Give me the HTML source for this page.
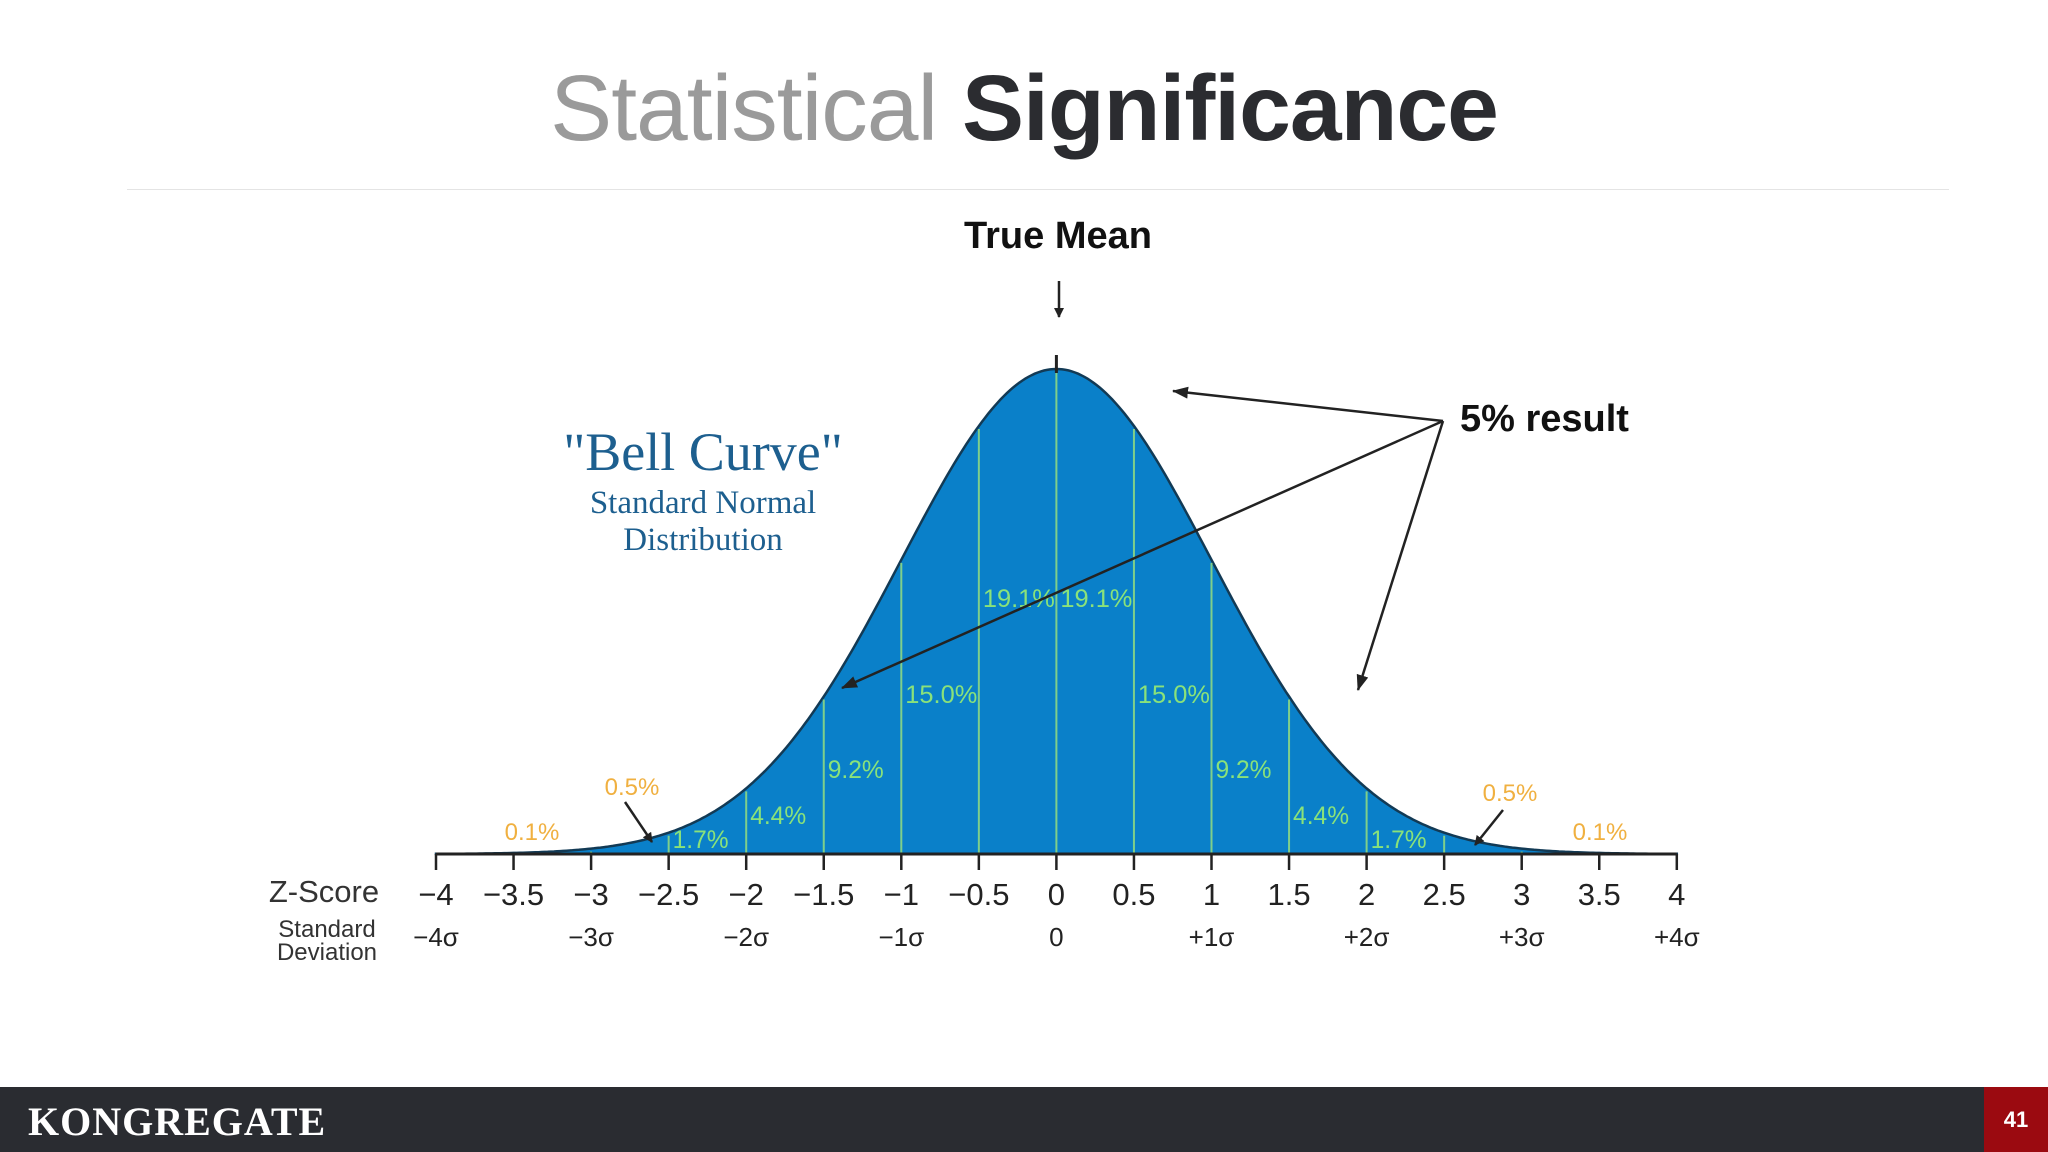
<!DOCTYPE html>
<html><head><meta charset="utf-8"><style>
body{margin:0;width:2048px;height:1152px;background:#fff;position:relative;overflow:hidden;font-family:"Liberation Sans",sans-serif}
.t{position:absolute}
</style></head><body>
<div class="t" style="left:0;width:2048px;top:48px;text-align:center;font-size:93px;line-height:120px;color:#9a9a9a;letter-spacing:-1px"><span style="font-weight:300">Statistical</span> <b style="color:#2b2c30">Significance</b></div>
<div class="t" style="left:127px;top:189px;width:1822px;height:1px;background:#e4e4e4"></div>
<svg class="t" style="left:0;top:0" width="2048" height="1152" id="chart"></svg>
<div class="t" style="left:0;top:1087px;width:2048px;height:65px;background:#2a2c31"></div>
<div class="t" style="left:28px;top:1098px;font-family:'Liberation Serif',serif;font-weight:bold;font-size:40px;color:#fff;letter-spacing:1px">KONGREGATE</div>
<div class="t" style="left:1984px;top:1087px;width:64px;height:65px;background:#9b0a10;color:#fff;font-weight:bold;font-size:22px;line-height:65px;text-align:center">41</div>
<script>
const zTicks=[-4,-3.5,-3,-2.5,-2,-1.5,-1,-0.5,0,0.5,1,1.5,2,2.5,3,3.5,4];
const zLabels=["−4","−3.5","−3","−2.5","−2","−1.5","−1","−0.5","0","0.5","1","1.5","2","2.5","3","3.5","4"];
const sdTicks=[-4,-3,-2,-1,0,1,2,3,4];
const sdLabels=["−4σ","−3σ","−2σ","−1σ","0","+1σ","+2σ","+3σ","+4σ"];
const bandLeft=[-2.5,-2,-1.5,-1,-0.5,0,0.5,1,1.5,2];
const bandPct=["1.7%","4.4%","9.2%","15.0%","19.1%","19.1%","15.0%","9.2%","4.4%","1.7%"];
const bandLabelY=[0.012,0.062,0.157,0.311,0.509,0.509,0.311,0.157,0.062,0.012];
const svg=document.getElementById('chart');const NS='http://www.w3.org/2000/svg';
const X=z=>436+(z+4)*155.1;const base=854,H=485;
const Y=v=>base-H*v;const pdf=z=>Math.exp(-z*z/2);
function mk(t,a,txt){const e=document.createElementNS(NS,t);for(const k in a)e.setAttribute(k,a[k]);if(txt!==undefined)e.textContent=txt;svg.appendChild(e);return e;}
let d='M'+X(-4)+','+base;for(let z=-4;z<=4.001;z+=0.02)d+=' L'+X(z).toFixed(1)+','+Y(pdf(z)).toFixed(1);d+=' L'+X(4)+','+base+'Z';
const area=mk('path',{d:d,fill:'#0a80c9',stroke:'#123a55','stroke-width':2.5});


zTicks.forEach((z,i)=>{if(Math.abs(z)<3.9){const l=mk('line',{x1:X(z),x2:X(z),y1:base,y2:Y(pdf(z))+3,stroke:'#7fcf8a','stroke-width':2});

}
const tk=mk('line',{x1:X(z),x2:X(z),y1:base,y2:base+16,stroke:'#222','stroke-width':2.5});


const t=mk('text',{x:X(z),y:905,'font-size':31,'text-anchor':'middle',fill:'#222'},zLabels[i]);

});
mk('line',{x1:X(0),x2:X(0),y1:Y(1)+4,y2:Y(1)-14,stroke:'#222','stroke-width':3});
mk('line',{x1:X(-4),x2:X(4),y1:base,y2:base,stroke:'#222','stroke-width':3});
sdTicks.forEach((z,i)=>{const t=mk('text',{x:X(z),y:946,'font-size':26,'text-anchor':'middle',fill:'#222'},sdLabels[i]);

});
bandLeft.forEach((z,i)=>{const t=mk('text',{x:X(z)+4,y:Y(bandLabelY[i]),'font-size':25,'text-anchor':'start',fill:'#8ae27a','textLength':bandPct[i].length>4?72:56,'lengthAdjust':'spacingAndGlyphs'},bandPct[i]);

});
[['0.1%',532,840],['0.1%',1600,840],['0.5%',632,795],['0.5%',1510,801]].forEach(a=>{const t=mk('text',{x:a[1],y:a[2],'font-size':24,'text-anchor':'middle',fill:'#f0b040'},a[0]);

});
mk('defs',{}).innerHTML='<marker id="ah" markerWidth="10" markerHeight="10" refX="9" refY="5" orient="auto" markerUnits="userSpaceOnUse"><path d="M0,0 L10,5 L0,10z" fill="#222"/></marker><marker id="ah2" markerWidth="16" markerHeight="12" refX="15" refY="6" orient="auto" markerUnits="userSpaceOnUse"><path d="M0,0 L16,6 L0,12z" fill="#222"/></marker>';
mk('line',{x1:625,y1:802,x2:652,y2:842,stroke:'#222','stroke-width':2.5,'marker-end':'url(#ah)'});
mk('line',{x1:1503,y1:810,x2:1475,y2:845,stroke:'#222','stroke-width':2.5,'marker-end':'url(#ah)'});
[['Z-Score',324,902,31],['Standard',327,937,24],['Deviation',327,960,24]].forEach(a=>mk('text',{x:a[1],y:a[2],'font-size':a[3],'text-anchor':'middle',fill:'#333'},a[0]));
const bc=[['"Bell Curve"',703,470,54],['Standard Normal',703,513,33],['Distribution',703,550,33]];
bc.forEach(a=>{const t=mk('text',{x:a[1],y:a[2],'font-size':a[3],'text-anchor':'middle',fill:'#1d5f8f','font-family':'Liberation Serif,serif'},a[0]);

});
const tm=mk('text',{x:1058,y:248,'font-size':38,'font-weight':'bold','text-anchor':'middle',fill:'#111'},'True Mean');


mk('line',{x1:1059,y1:281,x2:1059,y2:317,stroke:'#222','stroke-width':2.5,'marker-end':'url(#ah)'});
const fr=mk('text',{x:1460,y:431,'font-size':38,'font-weight':'bold',fill:'#111'},'5% result');


[[1173,391],[842,688],[1358,690]].forEach(p=>mk('line',{x1:1443,y1:421,x2:p[0],y2:p[1],stroke:'#222','stroke-width':2.5,'marker-end':'url(#ah2)'}));
</script>
</body></html>
